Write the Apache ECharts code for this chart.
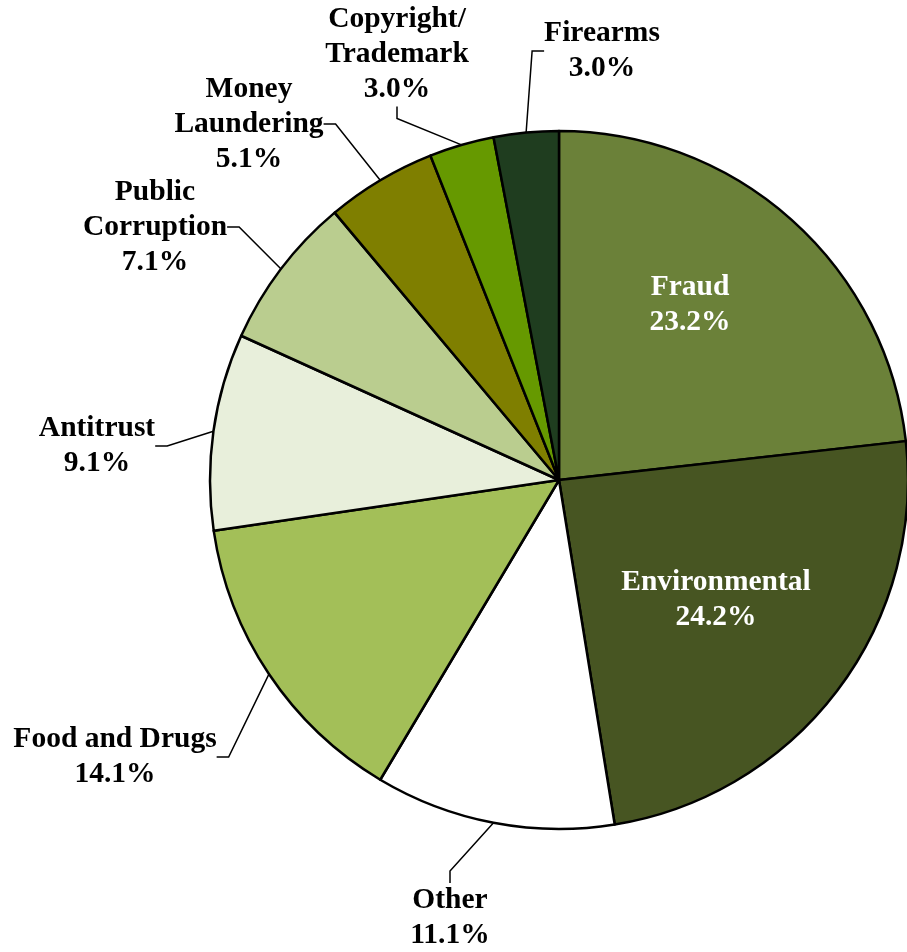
<!DOCTYPE html>
<html>
<head>
<meta charset="utf-8">
<title>Pie</title>
<script src="https://cdn.jsdelivr.net/npm/echarts@6/dist/echarts.min.js"></script>
<style>
  html, body { margin: 0; padding: 0; background: #ffffff; }
  #chart { width: 907px; height: 952px; }
</style>
</head>
<body>
<div id="chart"></div>
<script>
// 类别（顺时针，从12点方向开始）
const categories = ['Fraud', 'Environmental', 'Other', 'Food and Drugs', 'Antitrust',
  'Public\nCorruption', 'Money\nLaundering', 'Copyright/\nTrademark', 'Firearms']
// 百分比
const shares = [23.2, 24.2, 11.1, 14.1, 9.1, 7.1, 5.1, 3.0, 3.0]
// 颜色
const colors = ['#6b8139', '#475522', '#ffffff', '#a3bf58', '#e8efdb',
  '#bacd8f', '#7f7f00', '#669900', '#1f3d1f']

// 标签位置（中心点）
const labelSpots = [
  [690, 305], [716, 600], [450, 918], [115, 757], [97, 446],
  [155, 227], [249, 124], [397, 54], [602, 51]
]

const myChart = echarts.init(document.getElementById('chart'))

const data = categories.map((name, i) => {
  const inner = i < 2 // 前两块标签在内部，白字
  return {
    name: name,
    value: shares[i],
    itemStyle: { color: colors[i] },
    label: inner ? { color: '#ffffff' } : {},
    labelLine: { show: !inner }
  }
})

const options = {
  backgroundColor: '#ffffff',
  animation: false,
  series: [{
    type: 'pie',
    center: [559, 480],
    radius: 349,
    startAngle: 90,
    clockwise: true,
    avoidLabelOverlap: false,
    itemStyle: {
      borderColor: '#000000',
      borderWidth: 2.5
    },
    label: {
      show: true,
      position: 'outside',
      color: '#000000',
      fontFamily: 'Liberation Serif',
      fontWeight: 'bold',
      fontSize: 29.5,
      lineHeight: 35,
      align: 'center',
      formatter: function (p) {
        return p.name + '\n' + p.value.toFixed(1) + '%'
      }
    },
    labelLine: {
      show: true,
      length: 10,
      length2: 12,
      lineStyle: {
        color: '#000000',
        width: 1.5
      }
    },
    labelLayout: function (params) {
      const spot = labelSpots[params.dataIndex]
      return {
        x: spot[0],
        y: spot[1],
        align: 'center',
        verticalAlign: 'middle'
      }
    },
    emphasis: { disabled: true },
    data: data
  }]
}
myChart.setOption(options)
</script>
</body>
</html>
